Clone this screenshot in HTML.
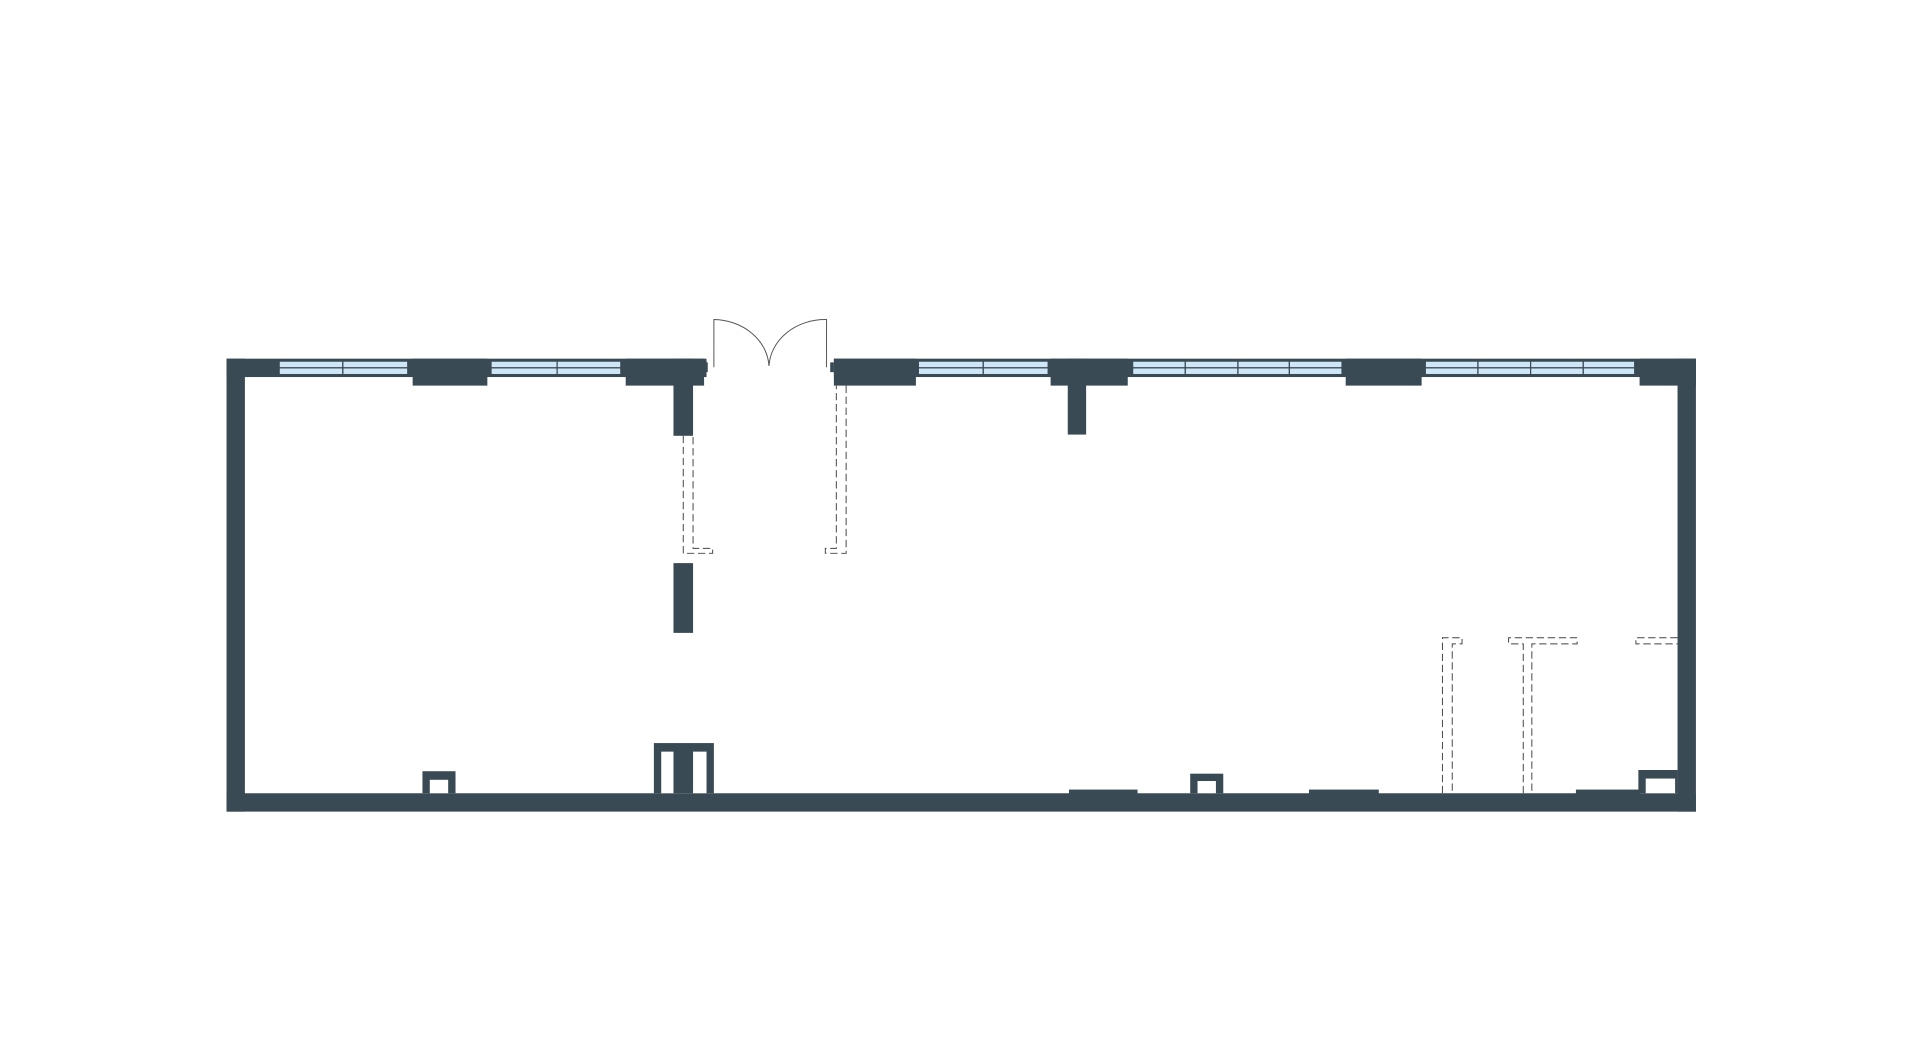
<!DOCTYPE html>
<html><head><meta charset="utf-8"><style>
html,body{margin:0;padding:0;background:#fff;width:1920px;height:1054px;overflow:hidden}
svg{display:block}
</style></head><body>
<svg width="1920" height="1054" viewBox="0 0 1568 861" preserveAspectRatio="none">
<g fill="#3a4a55">
<!-- outer walls -->
<rect x="185" y="293" width="392" height="15"/>
<rect x="681" y="293" width="704" height="15"/>
<rect x="185" y="293" width="15" height="370"/>
<rect x="1370" y="293" width="15" height="370"/>
<rect x="185" y="648" width="1200" height="15"/>
<!-- piers -->
<rect x="337" y="293" width="61" height="22"/>
<rect x="511" y="293" width="64" height="22"/>
<rect x="550" y="293" width="16" height="63"/>
<rect x="681" y="293" width="67" height="22"/>
<rect x="858" y="293" width="63" height="22"/>
<rect x="872" y="293" width="15" height="62"/>
<rect x="1099" y="293" width="62" height="22"/>
<rect x="1339" y="293" width="46" height="22"/>
<rect x="575" y="296" width="3" height="8"/>
<rect x="678" y="296" width="3" height="8"/>
<!-- mid stub -->
<rect x="550" y="460" width="16" height="57"/>
<!-- bottom items -->
<rect x="345" y="630" width="27" height="18"/>
<rect x="534" y="607" width="49" height="41"/>
<rect x="873" y="645" width="56" height="4"/>
<rect x="972" y="632" width="27" height="16"/>
<rect x="1069" y="645" width="57" height="4"/>
<rect x="1287" y="645" width="52" height="4"/>
<rect x="1338" y="629" width="32" height="19"/>
</g>
<g fill="#fff">
<rect x="351" y="637" width="15" height="11"/>
<rect x="540" y="614" width="10" height="34"/>
<rect x="566" y="614" width="11" height="34"/>
<rect x="978" y="638" width="15" height="10"/>
<rect x="1344" y="636" width="24" height="12"/>
</g>
<!-- windows -->
<g fill="#cfe6f7" stroke="#3a4a55" stroke-width="1">
<rect x="228" y="295" width="52" height="5.5"/><rect x="228" y="300.5" width="52" height="5.5"/>
<rect x="280" y="295" width="53" height="5.5"/><rect x="280" y="300.5" width="53" height="5.5"/>
<rect x="401" y="295" width="54" height="5.5"/><rect x="401" y="300.5" width="54" height="5.5"/>
<rect x="455" y="295" width="52" height="5.5"/><rect x="455" y="300.5" width="52" height="5.5"/>
<rect x="750" y="295" width="53" height="5.5"/><rect x="750" y="300.5" width="53" height="5.5"/>
<rect x="803" y="295" width="53" height="5.5"/><rect x="803" y="300.5" width="53" height="5.5"/>
<rect x="925" y="295" width="43" height="5.5"/><rect x="925" y="300.5" width="43" height="5.5"/>
<rect x="968" y="295" width="43" height="5.5"/><rect x="968" y="300.5" width="43" height="5.5"/>
<rect x="1011" y="295" width="42" height="5.5"/><rect x="1011" y="300.5" width="42" height="5.5"/>
<rect x="1053" y="295" width="43" height="5.5"/><rect x="1053" y="300.5" width="43" height="5.5"/>
<rect x="1164" y="295" width="43" height="5.5"/><rect x="1164" y="300.5" width="43" height="5.5"/>
<rect x="1207" y="295" width="43" height="5.5"/><rect x="1207" y="300.5" width="43" height="5.5"/>
<rect x="1250" y="295" width="43" height="5.5"/><rect x="1250" y="300.5" width="43" height="5.5"/>
<rect x="1293" y="295" width="42" height="5.5"/><rect x="1293" y="300.5" width="42" height="5.5"/>
</g>
<!-- door -->
<g fill="none" stroke="#555" stroke-width="0.8">
<path d="M583 300 V261 A46 40 0 0 1 628 299"/>
<path d="M675 300 V261 A46 40 0 0 0 628 299"/>
</g>
<!-- dashed partitions -->
<g fill="none" stroke="#444" stroke-width="0.8" stroke-dasharray="6,3">
<path d="M558 356 V452 H582 V448 H566 V356"/>
<path d="M691 315 V452 H674 V448 H683 V315"/>
<path d="M1178 648 V521 H1194 V526 H1186 V648"/>
<path d="M1244 648 V526 H1232 V521 H1288 V526 H1251 V648"/>
<path d="M1370 521 H1336 V526 H1370"/>
</g>
</svg>
</body></html>
